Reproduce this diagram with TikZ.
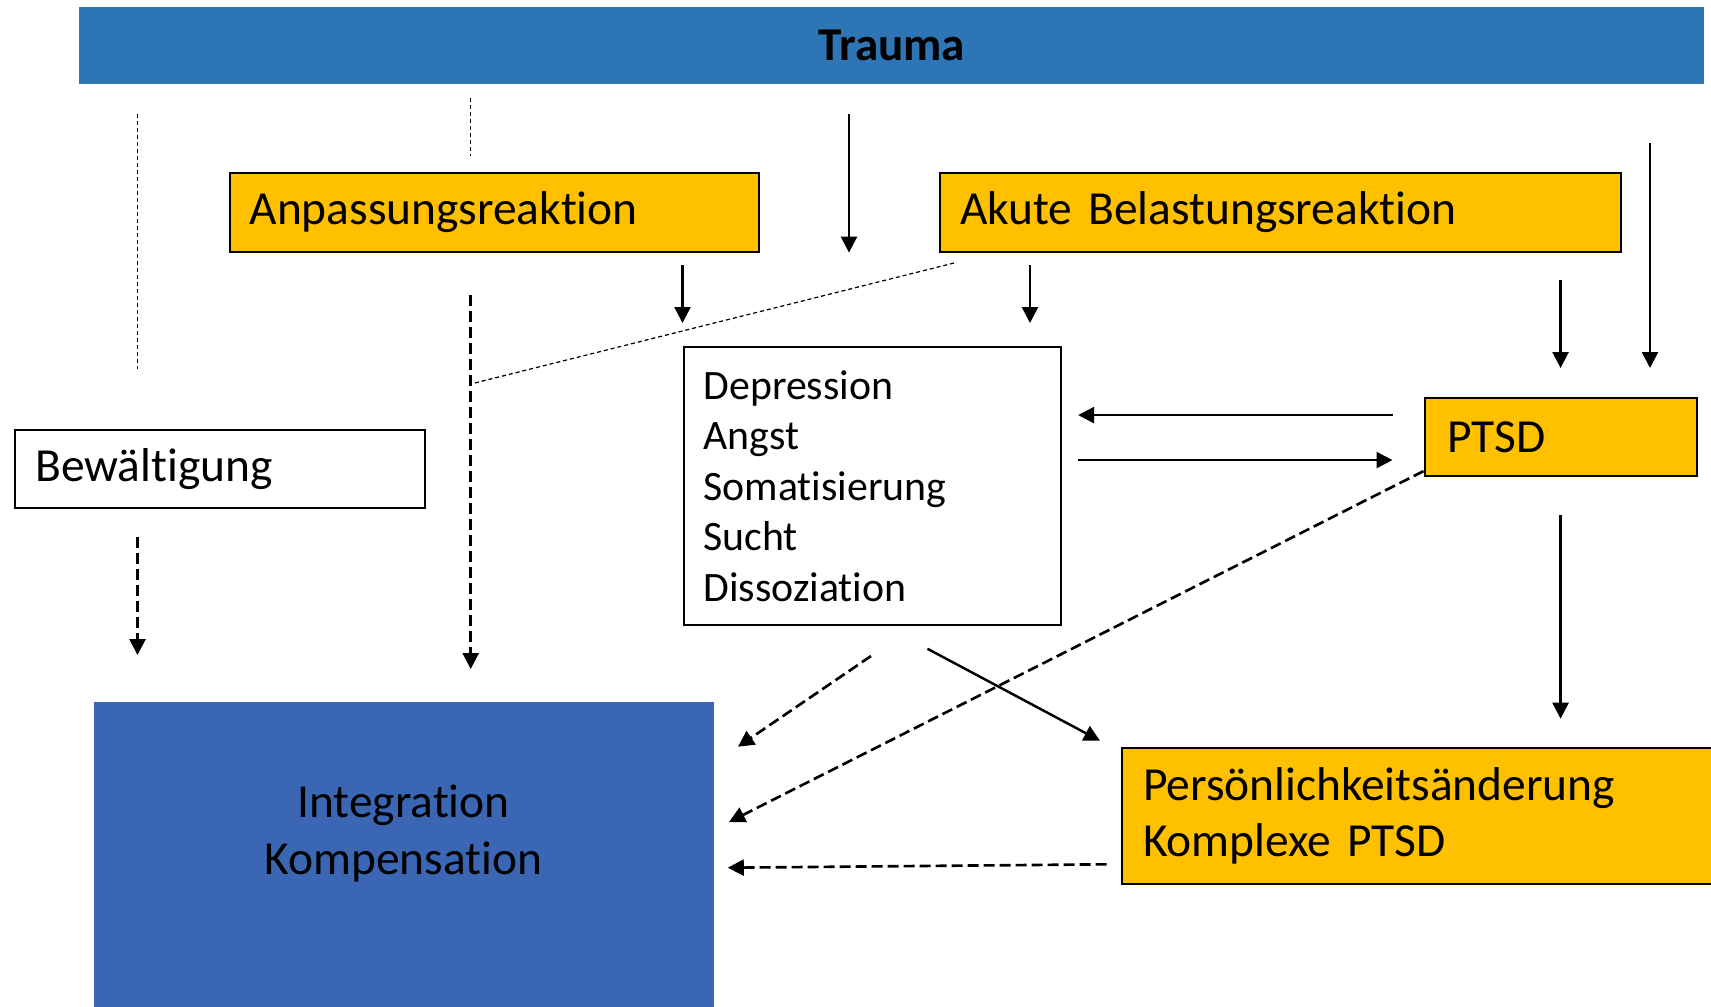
\documentclass[tikz,border=0pt]{standalone}
\usepackage{fontspec}
\setmainfont{Carlito}[Ligatures={NoCommon, NoRequired, NoContextual}]
\usetikzlibrary{arrows.meta, positioning, calc}
\definecolor{traumablau}{HTML}{2E75B6}
\definecolor{kompblau}{HTML}{3A66B4}
\definecolor{gelb}{HTML}{FFC000}

\begin{document}
\begin{tikzpicture}[x=1cm, y=-1cm, >={Triangle[length=1.6mm, width=1.6mm]},
  font=\fontsize{13.5}{16.2}\selectfont,
  kasten/.style={draw, line width=0.6pt, anchor=north west, inner xsep=0.2cm, inner ysep=0pt, align=left},
  gelbkasten/.style={kasten, fill=gelb},
  pfeil/.style={->, line width=0.7pt},
  strich/.style={->, line width=0.75pt, dash pattern=on 0.11cm off 0.05cm},
  punkt/.style={line width=0.35pt, dash pattern=on 0.04cm off 0.03cm}]
\useasboundingbox (0,0) rectangle (17.11,10.06);
%
\node[fill=traumablau, anchor=north west, minimum width=16.25cm, minimum height=0.765cm,
  font=\bfseries\fontsize{13.4}{15}\selectfont] (trauma) at (0.786,0.065) {Trauma};
\node[gelbkasten, text width=4.89cm, minimum height=0.785cm] (anpassung) at (2.285,1.72) {Anpassungsreaktion};
\node[gelbkasten, text width=6.41cm, minimum height=0.785cm] (akut) at (9.39,1.72) {Akute Belastungsreaktion};
\node[kasten, text width=3.375cm, minimum height=2.78cm, font=\fontsize{11.9}{14.4}\selectfont] (symptome) at (6.825,3.46)
  {Depression\\Angst\\Somatisierung\\Sucht\\Dissoziation};
\node[gelbkasten, inner xsep=0.225cm, text width=2.27cm, minimum height=0.78cm] (ptsd) at (14.235,3.97) {PTSD};
\node[kasten, text width=3.7cm, minimum height=0.775cm] (bewaeltigung) at (0.142,4.29) {Bewältigung};
\node[fill=kompblau, anchor=north west, minimum width=6.2cm, minimum height=3.3cm] (integration) at (0.928,7.01) {};
\node[align=center, font=\fontsize{13.5}{16.3}\selectfont] (integrationtext) at ($(integration.north)+(0,1.325)$)
  {Integration\\Kompensation};
\node[gelbkasten, inner xsep=0.21cm, text width=5.58cm, minimum height=1.36cm, font=\fontsize{13.5}{16.1}\selectfont]
  (persoen) at (11.21,7.467) {Persönlichkeitsänderung\\Komplexe PTSD};
%
\coordinate (spalte1) at (1.375,0);
\coordinate (spalte2) at (4.707,0);
\coordinate (spalte3) at (8.49,0);
\coordinate (spalte4) at (16.50,0);
\coordinate (spalte5) at (10.30,0);
\coordinate (zurueck) at ([yshift=0.22cm]ptsd.west);
\coordinate (hin) at ([yshift=-0.23cm]ptsd.west);
\coordinate (akutecke) at (9.54,2.63);
\coordinate (knick) at (4.707,3.84);
\coordinate (symlinks) at (8.71,6.56);
\coordinate (symrechts) at (9.274,6.487);
\coordinate (intoben) at (7.38,7.467);
\coordinate (intmitte) at (7.29,8.22);
\coordinate (intunten) at (7.278,8.677);
\coordinate (persoenoben) at (11.0,7.407);
\coordinate (persoenlinks) at (11.067,8.643);
%
\draw[punkt, shorten <=0.295cm, shorten >=0.6cm] (trauma.south -| spalte1) -- (bewaeltigung.north -| spalte1);
\draw[strich, shorten <=0.285cm, shorten >=0.46cm] (bewaeltigung.south -| spalte1) -- (integration.north -| spalte1);
\draw[punkt, shorten <=0.135cm, shorten >=0.16cm] (trauma.south -| spalte2) -- (anpassung.north -| spalte2);
\draw[strich, shorten <=0.425cm, shorten >=0.32cm] (anpassung.south -| spalte2) -- (integration.north -| spalte2);
\draw[punkt] (akutecke) -- (knick);
\draw[pfeil, shorten <=0.3cm] (trauma.south -| spalte3) -- (akut.south -| spalte3);
\draw[pfeil, shorten <=0.585cm, shorten >=0.29cm] (trauma.south -| spalte4) -- (ptsd.north -| spalte4);
\draw[pfeil, shorten <=0.125cm, shorten >=0.23cm] (anpassung.south -| symptome.west) -- (symptome.north west);
\draw[pfeil, shorten <=0.125cm, shorten >=0.23cm] (akut.south -| spalte5) -- (symptome.north -| spalte5);
\draw[pfeil, shorten <=0.275cm, shorten >=0.29cm] (akut.south -| ptsd.north) -- (ptsd.north);
\draw[pfeil, shorten <=0.31cm, shorten >=0.16cm] (zurueck) -- (zurueck -| symptome.east);
\draw[pfeil, shorten <=0.16cm, shorten >=0.31cm] (hin -| symptome.east) -- (hin);
\draw[pfeil, shorten <=0.38cm, shorten >=0.28cm] (ptsd.south) -- (persoen.north -| ptsd.south);
\draw[strich] ([yshift=0.06cm]ptsd.south west) -- (intmitte);
\draw[strich] (symlinks) -- (intoben);
\draw[pfeil] (symrechts) -- (persoenoben);
\draw[strich] (persoenlinks) -- (intunten);
\end{tikzpicture}
\end{document}
